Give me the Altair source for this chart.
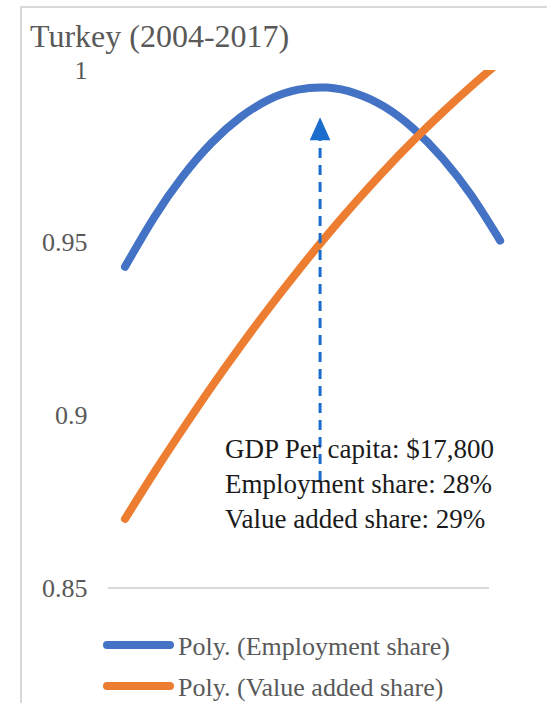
import altair as alt
import pandas as pd

# ---------------- data ----------------
years = list(range(2004, 2018))
employment_share = [0.9430, 0.9572, 0.9692, 0.9789, 0.9863, 0.9915, 0.9943,
                    0.9949, 0.9932, 0.9893, 0.9830, 0.9745, 0.9637, 0.9506]
value_added_share = [0.8700, 0.8833, 0.8960, 0.9083, 0.9200, 0.9312, 0.9419,
                     0.9521, 0.9618, 0.9710, 0.9796, 0.9877, 0.9953, 1.0025]
series_names = ["Poly. (Employment share)", "Poly. (Value added share)"]
series_colors = ["#4472C4", "#ED7D31"]
y_ticks = [0.85, 0.9, 0.95, 1.0]
title_text = "Turkey (2004-2017)"
note_lines = ["GDP Per capita: $17,800", "Employment share: 28%", "Value added share: 29%"]
arrow_year = [2010.76]
arrow_from = [0.881]
arrow_to = [0.980]
arrow_head = [0.983]

FONT = "Liberation Serif"
GRAY = "#595959"
ARROW = "#1A6DCC"
BORDER = "#D9D9D9"

df_emp = pd.DataFrame({"year": years, "value": employment_share})
df_va = pd.DataFrame({"year": years, "value": value_added_share})
df_arrow = pd.DataFrame({"year": arrow_year, "y1": arrow_from, "y2": arrow_to, "head": arrow_head})

xs = alt.Scale(domain=[2003.41, 2017.62], nice=False, zero=False)
ys = alt.Scale(domain=[0.85, 1.0], nice=False, zero=False)
yaxis = alt.Axis(values=y_ticks, format="~g", domain=False, ticks=False, grid=False,
                 labelFont=FONT, labelFontSize=26, labelColor=GRAY, labelPadding=21)


def X(field):
    return alt.X(field, scale=xs, axis=None, title=None)


def Y(field):
    return alt.Y(field, scale=ys, axis=yaxis, title=None)


baseline = alt.Chart(df_emp).mark_rule(color=BORDER, strokeWidth=2).encode(
    x=alt.value(0), x2=alt.value(381), y=alt.datum(0.85, type="quantitative", scale=ys, axis=yaxis, title=None)
)

emp_line = alt.Chart(df_emp).mark_line(
    color=series_colors[0], strokeWidth=8, strokeCap="round", interpolate="natural"
).encode(x=X("year:Q"), y=Y("value:Q"))

va_line = alt.Chart(df_va).mark_line(
    color=series_colors[1], strokeWidth=8, strokeCap="round", interpolate="natural", clip=True
).encode(x=X("year:Q"), y=Y("value:Q"))

arrow_shaft = alt.Chart(df_arrow).mark_rule(
    color=ARROW, strokeWidth=3, strokeDash=[10, 7]
).encode(x=X("year:Q"), y=Y("y1:Q"), y2="y2:Q")

arrow_tip = alt.Chart(df_arrow).mark_point(
    shape="M0,-1L-0.9,1L0.9,1Z", filled=True, size=529, color=ARROW, opacity=1
).encode(x=X("year:Q"), y=Y("head:Q"))

note = alt.Chart(df_arrow).mark_text(
    text=note_lines, align="left", baseline="alphabetic", font=FONT, fontSize=27,
    lineHeight=35, color="#1A1A1A"
).encode(x=alt.value(117), y=alt.value(388))

title = alt.Chart(df_arrow).mark_text(
    text=title_text, align="left", baseline="alphabetic", font=FONT, fontSize=32, color=GRAY
).encode(x=alt.value(-78), y=alt.value(-23))

border_left = alt.Chart(df_arrow).mark_rule(color=BORDER, strokeWidth=2).encode(
    x=alt.value(-87), y=alt.value(-64), y2=alt.value(633)
)
border_top = alt.Chart(df_arrow).mark_rule(color=BORDER, strokeWidth=2).encode(
    x=alt.value(-88), x2=alt.value(439), y=alt.value(-63)
)

legend_layers = []
for i, (name, col) in enumerate(zip(series_names, series_colors)):
    yline = 575 + 41 * i
    legend_layers.append(
        alt.Chart(df_arrow).mark_rule(color=col, strokeWidth=8, strokeCap="round").encode(
            x=alt.value(-1), x2=alt.value(62), y=alt.value(yline)
        )
    )
    legend_layers.append(
        alt.Chart(df_arrow).mark_text(
            text=name, align="left", baseline="alphabetic", font=FONT, fontSize=26, color=GRAY
        ).encode(x=alt.value(70), y=alt.value(yline + 10))
    )

chart = alt.layer(
    border_left, border_top, baseline, emp_line, va_line, arrow_shaft, arrow_tip,
    note, title, *legend_layers
).properties(
    width=410, height=518,
    autosize=alt.AutoSizeParams(type="none"),
    padding={"left": 108, "top": 70, "right": 29, "bottom": 115},
    background="white",
).configure_view(stroke=None)

chart.save("out.html", embed_options={"renderer": "svg", "actions": False})
